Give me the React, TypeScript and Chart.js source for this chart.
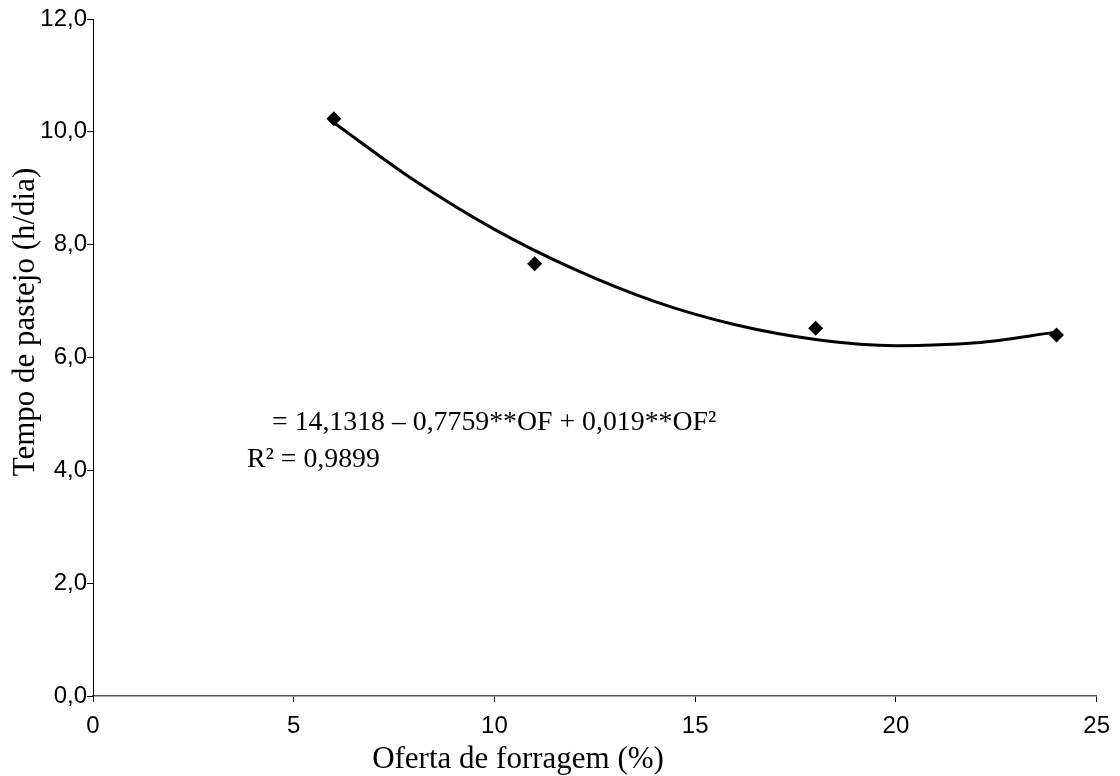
import React, { useEffect, useRef } from "react";
import { Chart, registerables } from "chart.js";

Chart.register(...registerables);

const obsX = [6, 11, 18, 24];
const obsY = [10.23, 7.66, 6.52, 6.4];

const fitX = [6, 8, 10, 12, 14, 16, 18, 20, 22, 24];
const fitY = [10.16, 9.14, 8.27, 7.56, 6.99, 6.58, 6.32, 6.21, 6.26, 6.45];

const xTitle = "Oferta de forragem (%)";
const yTitle = "Tempo de pastejo (h/dia)";
const eqLine1 = "= 14,1318 – 0,7759**OF + 0,019**OF²";
const eqLine2 = "R² = 0,9899";

const SERIF = "'Liberation Serif', 'Times New Roman', serif";
const SANS = "'Liberation Sans', Arial, sans-serif";

export default function App() {
  const ref = useRef<HTMLCanvasElement | null>(null);

  useEffect(() => {
    document.body.style.margin = "0";
    const canvas = ref.current;
    if (!canvas) return;

    const textPlugin = {
      id: "textPlugin",
      afterDraw(chart: any) {
        const ctx = chart.ctx;
        ctx.save();
        ctx.fillStyle = "#000";
        ctx.font = `27.8px ${SERIF}`;
        ctx.textBaseline = "alphabetic";
        ctx.textAlign = "left";
        ctx.fillText(eqLine1, 272, 430);
        ctx.fillText(eqLine2, 247, 467);

        ctx.font = `31px ${SERIF}`;
        ctx.textAlign = "center";
        ctx.fillText(xTitle, 518, 768);

        ctx.translate(34, 322);
        ctx.rotate(-Math.PI / 2);
        ctx.fillText(yTitle, 0, 0);
        ctx.restore();
      },
    };

    const chart = new Chart(canvas, {
      type: "scatter",
      data: {
        datasets: [
          {
            type: "line",
            data: fitX.map((x, i) => ({ x, y: fitY[i] })),
            borderColor: "#000",
            borderWidth: 3,
            pointRadius: 0,
            tension: 0.4,
            cubicInterpolationMode: "monotone",
            fill: false,
          } as any,
          {
            data: obsX.map((x, i) => ({ x, y: obsY[i] })),
            pointStyle: "rectRot",
            pointRadius: 7.5,
            backgroundColor: "#000",
            borderColor: "#000",
            borderWidth: 0,
          },
        ],
      },
      options: {
        responsive: false,
        animation: false,
        layout: { padding: { left: 0, top: 19, right: 23, bottom: 0 } },
        plugins: { legend: { display: false }, tooltip: { enabled: false } },
        scales: {
          x: {
            type: "linear",
            min: 0,
            max: 25,
            afterFit(scale: any) {
              scale.height = 80;
            },
            ticks: {
              stepSize: 5,
              color: "#000",
              font: { family: SANS, size: 24 },
              padding: 10,
              maxRotation: 0,
            },
            grid: {
              drawOnChartArea: false,
              tickLength: 6,
              tickColor: "#000",
            },
            border: { color: "#555", width: 1.5 },
          },
          y: {
            type: "linear",
            min: 0,
            max: 12,
            afterFit(scale: any) {
              scale.width = 93;
            },
            ticks: {
              stepSize: 2,
              color: "#000",
              font: { family: SANS, size: 24 },
              padding: 0,
              callback: (v: any) => Number(v).toFixed(1).replace(".", ","),
            },
            grid: {
              drawOnChartArea: false,
              tickLength: 6,
              tickColor: "#000",
            },
            border: { color: "#000", width: 1 },
          },
        },
      },
      plugins: [textPlugin],
    });

    return () => chart.destroy();
  }, []);

  return (
    <div style={{ width: 1120, height: 776 }}>
      <canvas ref={ref} width={1120} height={776} style={{ display: "block" }} />
    </div>
  );
}
